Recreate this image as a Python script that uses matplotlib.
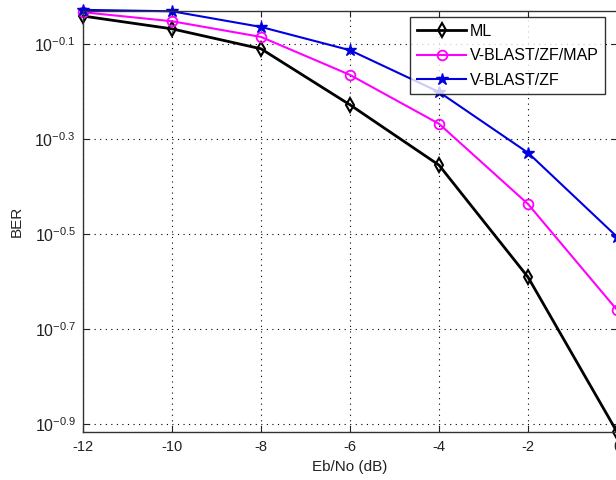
import matplotlib
matplotlib.use('Agg')
import matplotlib.pyplot as plt
import matplotlib.ticker as ticker
import numpy as np

plt.rcParams['font.family'] = ['Liberation Sans', 'DejaVu Sans']
plt.rcParams['mathtext.fontset'] = 'custom'
plt.rcParams['mathtext.rm'] = 'Liberation Sans'
plt.rcParams['mathtext.it'] = 'Liberation Sans'

snr_db = [-12, -10, -8, -6, -4, -2, 0]

# log10(BER)
ml_log   = [-0.041, -0.068, -0.110, -0.228, -0.355, -0.591, -0.917]
map_log  = [-0.033, -0.052, -0.085, -0.165, -0.268, -0.437, -0.660]
zf_log   = [-0.028, -0.031, -0.064, -0.113, -0.201, -0.329, -0.506]

ber_ml = 10 ** np.array(ml_log)
ber_map = 10 ** np.array(map_log)
ber_zf = 10 ** np.array(zf_log)

ytick_exp = [-0.9, -0.7, -0.5, -0.3, -0.1]
xticks = [-12, -10, -8, -6, -4, -2, 0]

fig = plt.figure(figsize=(6.16, 4.8), dpi=100)
ax = fig.add_axes([0.1347, 0.10, 0.867, 0.877])

ax.plot(snr_db, ber_ml, color='black', lw=2.0, marker='d', ms=7,
        mfc='none', mec='black', mew=1.5, label='ML', clip_on=False)
ax.plot(snr_db, ber_map, color='#ff00ff', lw=1.5, marker='o', ms=7,
        mfc='none', mec='#ff00ff', mew=1.3, label='V-BLAST/ZF/MAP', clip_on=False)
ax.plot(snr_db, ber_zf, color='#0000e0', lw=1.5, marker='*', ms=9,
        mfc='#0000e0', mec='#0000e0', label='V-BLAST/ZF', clip_on=False)

ax.set_yscale('log')
ax.set_xlim(-12, 0)
ax.set_ylim(10 ** -0.917, 10 ** -0.0305)
ax.set_xticks(xticks)
ax.set_xticklabels([str(t) for t in xticks])
ax.set_yticks([10 ** e for e in ytick_exp])
ax.set_yticklabels([r'$10^{%s}$' % e for e in ytick_exp])
ax.yaxis.set_minor_locator(ticker.NullLocator())

ax.tick_params(direction='in', top=True, right=True, length=4,
               labelsize=10.5, colors='#222222', pad=6)
ax.tick_params(axis='y', labelsize=11.5, pad=5)
ax.grid(True, which='major', color='black', linestyle=(0, (1, 4)), linewidth=0.8)
for s in ax.spines.values():
    s.set_color('#333333')
    s.set_linewidth(1.0)

ax.set_xlabel('Eb/No (dB)', fontsize=11, color='#222222', labelpad=4)
ax.set_ylabel('BER', fontsize=11, color='#222222', labelpad=8)

leg = ax.legend(loc='upper left', bbox_to_anchor=(0.613, 0.985), fontsize=11.5,
                frameon=True, fancybox=False, edgecolor='black',
                handlelength=3.1, borderpad=0.4, labelspacing=0.6,
                handletextpad=0.2, borderaxespad=0.0)
leg.get_frame().set_linewidth(1.0)

plt.savefig('out.png', dpi=100)
